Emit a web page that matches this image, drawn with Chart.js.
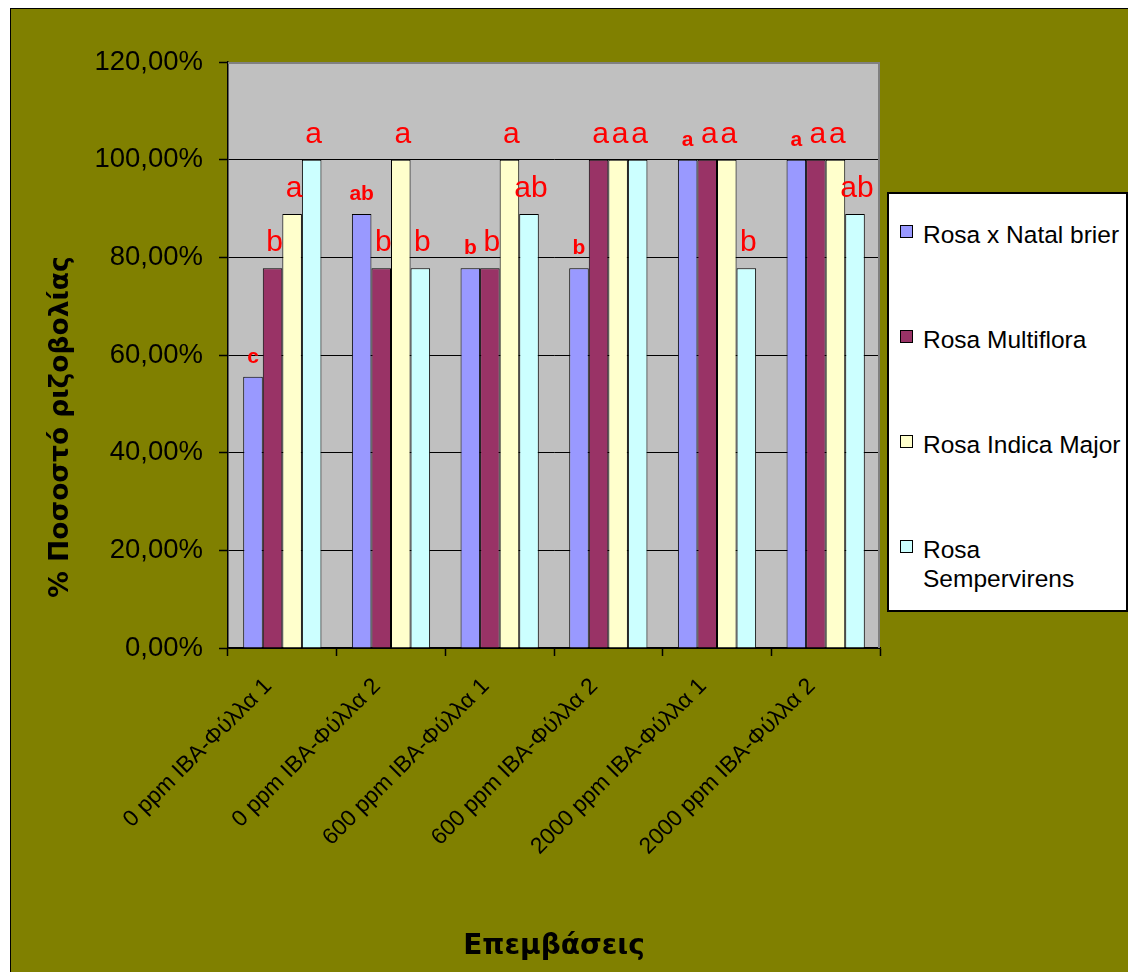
<!DOCTYPE html>
<html>
<head>
<meta charset="utf-8">
<script src="https://cdn.jsdelivr.net/npm/chart.js@4/dist/chart.umd.min.js"></script>
<style>
  html, body { margin: 0; padding: 0; background: #fff; }
  #wrap { position: relative; width: 1128px; height: 972px; overflow: hidden; }
  #chart { position: absolute; left: 0; top: 0; }
  #legend {
    position: absolute; left: 887px; top: 192px; width: 241px; height: 420px;
    box-sizing: border-box; border: 2px solid #000; background: #fff;
    font-family: "Liberation Sans", Arial, sans-serif; font-size: 24.5px; line-height: 29px; color: #000;
  }
  #legend .sw { position: absolute; left: 11px; width: 13px; height: 13px; box-sizing: border-box; border: 1px solid #000; }
  #legend .tx { position: absolute; left: 34px; width: 200px; }
</style>
</head>
<body>
<div id="wrap">
  <canvas id="chart" width="1128" height="972"></canvas>
  <div id="legend"></div>
</div>
<script>
// Treatments (x categories)
const categories = [
  '0 ppm IBA-Φύλλα 1',
  '0 ppm IBA-Φύλλα 2',
  '600 ppm IBA-Φύλλα 1',
  '600 ppm IBA-Φύλλα 2',
  '2000 ppm IBA-Φύλλα 1',
  '2000 ppm IBA-Φύλλα 2'
];

// Rooting percentage per rootstock
const natalBrier   = [55.56, 88.89, 77.78, 77.78, 100, 100];
const multiflora   = [77.78, 77.78, 77.78, 100, 100, 100];
const indicaMajor  = [88.89, 100, 100, 100, 100, 100];
const sempervirens = [100, 77.78, 88.89, 100, 77.78, 88.89];

// Significance letters above each bar
const natalLetters  = ['c', 'ab', 'b', 'b', 'a', 'a'];
const multiLetters  = ['b', 'b', 'b', 'a', 'a', 'a'];
const indicaLetters = ['a', 'a', 'a', 'a', 'a', 'a'];
const sempLetters   = ['a', 'b', 'ab', 'a', 'b', 'ab'];

const seriesNames  = ['Rosa x Natal brier', 'Rosa Multiflora', 'Rosa Indica Major', 'Rosa Sempervirens'];
const seriesColors = ['#9999FF', '#993366', '#FFFFCC', '#CCFFFF'];
const seriesValues = [natalBrier, multiflora, indicaMajor, sempervirens];
const seriesLetters = [natalLetters, multiLetters, indicaLetters, sempLetters];

// y ticks: 0 .. 120 in steps of 20
const yMin = 0, yMax = 120, yStep = 20;

const yTitle = '% Ποσοστό ριζοβολίας';
const xTitle = 'Επεμβάσεις';

const SANS = '"Liberation Sans", Arial, sans-serif';
const TITLE_FONT = '"DejaVu Sans", Verdana, sans-serif';

// Background, plot area, frame and the vertical axis title
const framePlugin = {
  id: 'framePlugin',
  beforeDraw(chart) {
    const { ctx, chartArea: a, width, height } = chart;
    ctx.save();
    ctx.fillStyle = '#ffffff';
    ctx.fillRect(0, 0, width, height);
    ctx.fillStyle = '#808000';
    ctx.fillRect(10, 8, width, height);
    ctx.strokeStyle = '#000';
    ctx.lineWidth = 1;
    ctx.strokeRect(10.5, 8.5, width + 20, height + 20);
    ctx.fillStyle = '#C0C0C0';
    ctx.fillRect(a.left, a.top, a.right - a.left, a.bottom - a.top);
    ctx.restore();
  },
  afterDraw(chart) {
    const { ctx, chartArea: a } = chart;
    ctx.save();
    ctx.strokeStyle = '#808080';
    ctx.lineWidth = 2;
    ctx.beginPath();
    ctx.moveTo(a.left, a.top + 1);
    ctx.lineTo(a.right - 1, a.top + 1);
    ctx.lineTo(a.right - 1, a.bottom);
    ctx.stroke();

    ctx.translate(61, 427);
    ctx.rotate(-Math.PI / 2);
    ctx.fillStyle = '#000';
    ctx.font = 'bold 26.5px ' + TITLE_FONT;
    ctx.textAlign = 'center';
    ctx.textBaseline = 'middle';
    ctx.fillText(yTitle, 0, 0);
    ctx.restore();
  }
};

// Letters drawn above every bar, taken from the letter arrays
const letterPlugin = {
  id: 'letterPlugin',
  afterDatasetsDraw(chart) {
    const { ctx } = chart;
    ctx.save();
    ctx.fillStyle = '#FF0000';
    ctx.textAlign = 'center';
    ctx.textBaseline = 'alphabetic';
    chart.data.datasets.forEach((ds, i) => {
      const meta = chart.getDatasetMeta(i);
      const letters = seriesLetters[i];
      const bold = i === 0;
      ctx.font = bold ? 'bold 21px ' + SANS : '30px ' + SANS;
      meta.data.forEach((bar, j) => {
        ctx.fillText(letters[j], bar.x + (bold ? 0 : 2), bar.y - (bold ? 14 : 17));
      });
    });
    ctx.restore();
  }
};

const datasets = seriesNames.map((name, i) => ({
  label: name,
  data: seriesValues[i],
  backgroundColor: seriesColors[i],
  borderColor: '#000',
  borderWidth: 1,
  borderSkipped: 'start',
  categoryPercentage: 0.72,
  barPercentage: 1.0
}));

new Chart(document.getElementById('chart'), {
  type: 'bar',
  data: { labels: categories, datasets },
  options: {
    responsive: false,
    animation: false,
    devicePixelRatio: 1,
    layout: { padding: { top: 62, right: 248, left: 0, bottom: 0 } },
    plugins: { legend: { display: false }, title: { display: false }, tooltip: { enabled: false } },
    scales: {
      x: {
        afterFit(scale) { scale.height = 324; },
        grid: { display: true, drawOnChartArea: false, offset: true, tickLength: 8, tickColor: '#000', tickWidth: 1.5 },
        border: { display: true, color: '#000', width: 1.5 },
        ticks: {
          autoSkip: false, maxRotation: 45, minRotation: 45, padding: 17, labelOffset: -14,
          color: '#000', font: { family: SANS, size: 22.8 }
        },
        title: {
          display: true, text: xTitle, color: '#000',
          font: { family: TITLE_FONT, size: 28, weight: 'bold' },
          padding: { top: 0, bottom: 8 }
        }
      },
      y: {
        min: yMin, max: yMax,
        afterFit(scale) { scale.width = 228; },
        grid: {
          color: (c) => (c.tick && c.tick.value === yMax) ? 'rgba(0,0,0,0)' : '#000',
          lineWidth: 1, tickLength: 9, tickColor: '#000', tickWidth: 1.5
        },
        border: { display: true, color: '#000', width: 1.5 },
        ticks: {
          stepSize: yStep, padding: 16, color: '#000',
          font: { family: SANS, size: 27.5 },
          callback: (v) => v.toFixed(2).replace('.', ',') + '%'
        }
      }
    }
  },
  plugins: [framePlugin, letterPlugin]
});

// Legend box built from the series arrays
const legend = document.getElementById('legend');
seriesNames.forEach((name, i) => {
  const item = document.createElement('div');
  item.className = 'item';
  const sw = document.createElement('div');
  sw.className = 'sw';
  sw.style.top = (31 + 105 * i) + 'px';
  sw.style.background = seriesColors[i];
  const tx = document.createElement('div');
  tx.className = 'tx';
  tx.style.top = (26 + 105 * i) + 'px';
  tx.textContent = name;
  item.appendChild(sw);
  item.appendChild(tx);
  legend.appendChild(item);
});
</script>
</body>
</html>
